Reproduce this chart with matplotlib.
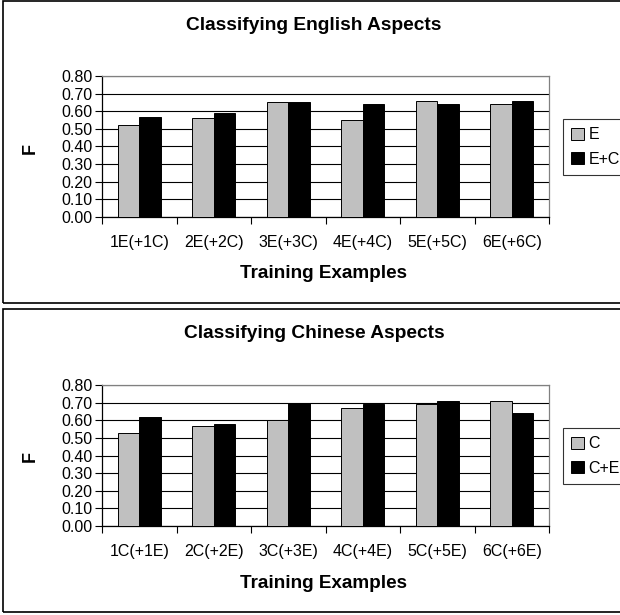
import matplotlib
matplotlib.use("Agg")
import matplotlib.pyplot as plt
from matplotlib.patches import Rectangle
import numpy as np

plt.rcParams['font.family'] = ['Liberation Sans', 'DejaVu Sans']

cats_en = ["1E(+1C)", "2E(+2C)", "3E(+3C)", "4E(+4C)", "5E(+5C)", "6E(+6C)"]
vals_e = [0.52, 0.56, 0.65, 0.55, 0.66, 0.64]
vals_ec = [0.57, 0.59, 0.65, 0.64, 0.64, 0.66]

cats_zh = ["1C(+1E)", "2C(+2E)", "3C(+3E)", "4C(+4E)", "5C(+5E)", "6C(+6E)"]
vals_c = [0.53, 0.57, 0.60, 0.67, 0.69, 0.71]
vals_ce = [0.62, 0.58, 0.70, 0.69, 0.71, 0.64]

yticks = [0.0, 0.1, 0.2, 0.3, 0.4, 0.5, 0.6, 0.7, 0.8]

W, H = 620, 615
fig = plt.figure(figsize=(W / 100, H / 100), dpi=100)

def fx(px):
    return px / W

def fy(py):
    return 1 - py / H

panels = [
    ("Classifying English Aspects", cats_en, vals_e, vals_ec, ("E", "E+C"), 0),
    ("Classifying Chinese Aspects", cats_zh, vals_c, vals_ce, ("C", "C+E"), 309),
]

# panel frames
fig.patches.append(Rectangle((fx(3), fy(303)), fx(640), (303 - 1) / H,
                             transform=fig.transFigure, fill=False,
                             edgecolor='black', linewidth=1.2))
fig.patches.append(Rectangle((fx(3), fy(612)), fx(640), (612 - 309) / H,
                             transform=fig.transFigure, fill=False,
                             edgecolor='black', linewidth=1.2))

tick_fs = 11.5

for title, cats, v1, v2, labels, off in panels:
    ax = fig.add_axes([fx(102), fy(217 + off), fx(549) - fx(102), (217 - 76) / H])
    x = np.arange(len(cats))
    bw = 0.29
    ax.bar(x - bw / 2, v1, bw, color='#c0c0c0', edgecolor='black', linewidth=0.7,
           label=labels[0], zorder=3)
    ax.bar(x + bw / 2, v2, bw, color='black', edgecolor='black', linewidth=0.7,
           label=labels[1], zorder=3)
    ax.set_xlim(-0.5, len(cats) - 0.5)
    ax.set_ylim(0, 0.8)
    ax.set_yticks(yticks)
    ax.set_yticklabels([f"{t:.2f}" for t in yticks], fontsize=tick_fs)
    ax.yaxis.grid(True, color='black', linewidth=0.8, zorder=0)
    ax.set_axisbelow(True)
    ax.set_xticks(x)
    ax.set_xticklabels(cats, fontsize=tick_fs)
    ax.tick_params(axis='x', length=0, pad=13)
    ax.set_xticks(np.arange(len(cats) + 1) - 0.5, minor=True)
    ax.tick_params(axis='x', which='minor', length=5, width=0.8, color='black')
    ax.tick_params(axis='y', length=5, width=0.8, pad=2)
    for s in ('left', 'bottom'):
        ax.spines[s].set_color('black')
        ax.spines[s].set_linewidth(0.9)
    for s in ('top', 'right'):
        ax.spines[s].set_color('#808080')
        ax.spines[s].set_linewidth(0.9)
    fig.text(fx(314), fy(25 + off), title, ha='center', va='center',
             fontsize=13.8, fontweight='bold')
    fig.text(fx(324), fy(274 + off), "Training Examples", ha='center', va='center',
             fontsize=13.6, fontweight='bold')
    fig.text(fx(30), fy(148 + off), "F", ha='center', va='center',
             fontsize=13, fontweight='bold', rotation=90)
    leg = ax.legend(loc='center left', bbox_to_anchor=(fx(563), fy(147 + off)),
                    bbox_transform=fig.transFigure, frameon=True, fancybox=False,
                    edgecolor='black', fontsize=tick_fs, handlelength=0.8,
                    handleheight=0.8, handletextpad=0.3, borderpad=0.5,
                    labelspacing=0.6, borderaxespad=0)
    leg.get_frame().set_linewidth(0.8)

fig.savefig("out.png", dpi=100)
